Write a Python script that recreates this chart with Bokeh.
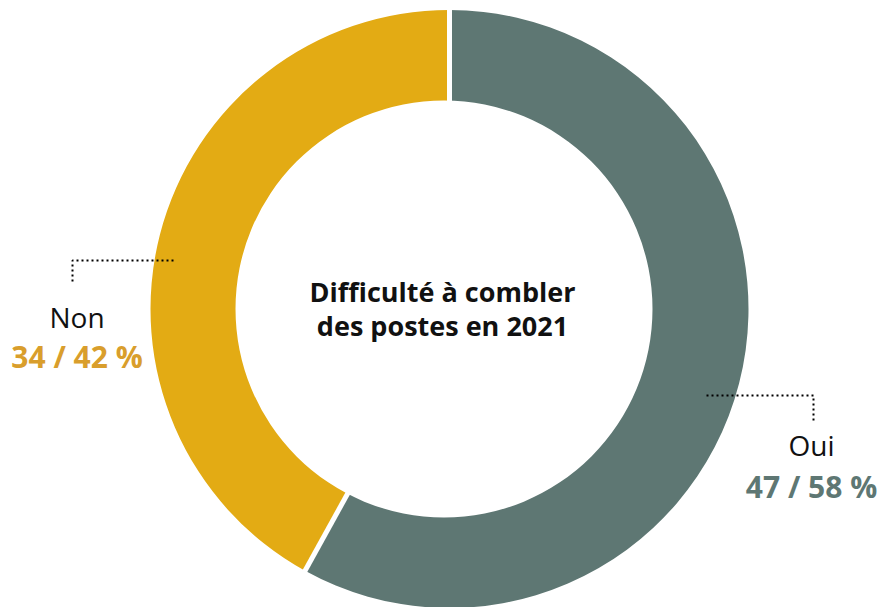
from bokeh.plotting import figure
from bokeh.models import Range1d, ColumnDataSource
from bokeh.core.properties import value
from bokeh.embed import file_html
from bokeh.resources import INLINE
import math

# ---- data ----
categories = ["Oui", "Non"]
counts = [47, 34]
percents = [58, 42]
colors = ["#5E7773", "#E3AB14"]
label_colors = ["#5E7773", "#D99E2C"]
title_lines = ["Difficulté à combler", "des postes en 2021"]

# ---- layout (screen pixel helpers) ----
W, H = 879, 607
X0, Y0 = 0, 0


def sy(y):
    return (Y0 + H) - y


CX, CY = 449, 308.5
R_OUT = 299
HOLE_CX, HOLE_CY, HOLE_R = 443.5, 308.5, 208.5
TXT_SHIFT = -11

p = figure(width=W, height=H, output_backend="svg", toolbar_location=None,
           x_range=Range1d(X0, X0 + W), y_range=Range1d(0, H),
           min_border=0, outline_line_color=None)
p.xaxis.visible = False
p.yaxis.visible = False
p.grid.visible = False
p.background_fill_color = "white"
p.border_fill_color = "white"

total = sum(counts)
starts, ends = [], []
a = math.pi / 2
for c in counts:
    starts.append(a)
    a = a - 2 * math.pi * c / total
    ends.append(a)

src = ColumnDataSource(dict(start=starts, end=ends, color=colors, cat=categories))
p.wedge(x=CX, y=sy(CY), radius=R_OUT, start_angle="start", end_angle="end",
        direction="clock", fill_color="color", line_color=None, source=src)

# white separators
for ang in starts:
    p.segment(x0=[CX], y0=[sy(CY)], x1=[CX + (R_OUT + 10) * math.cos(ang)],
              y1=[sy(CY) + (R_OUT + 10) * math.sin(ang)],
              line_color="white", line_width=5)

# hole
p.circle(x=[HOLE_CX], y=[sy(HOLE_CY)], radius=HOLE_R, fill_color="white", line_color=None)

# center title
p.text(x=[442, 442], y=[sy(302 + TXT_SHIFT), sy(336 + TXT_SHIFT)], text=title_lines,
       text_font=value("Open Sans"), text_font_style="bold",
       text_font_size="27px", text_align="center", text_baseline="alphabetic",
       text_color="#111111")

# labels
label_pos = {"Oui": (811, 455, 497), "Non": (76.5, 327.5, 367)}
for cat, cnt, pct, lc in zip(categories, counts, percents, label_colors):
    lx, ly1, ly2 = label_pos[cat]
    p.text(x=[lx], y=[sy(ly1 + TXT_SHIFT)], text=[cat], text_font=value("Open Sans"),
           text_font_size="28px", text_align="center", text_baseline="alphabetic",
           text_color="#111111")
    p.text(x=[lx], y=[sy(ly2 + TXT_SHIFT)], text=[f"{cnt} / {pct} %"],
           text_font=value("Open Sans"), text_font_style="bold", text_font_size="30px",
           text_align="center", text_baseline="alphabetic", text_color=lc)

# leader lines (dotted)
p.line(x=[173, 72, 72], y=[sy(260), sy(260), sy(284)], line_color="#000000",
       line_width=2, line_dash="2 3")
p.line(x=[706, 813, 813], y=[sy(395), sy(395), sy(423)], line_color="#000000",
       line_width=2, line_dash="2 3")

open("out.html", "w").write(file_html(p, INLINE))
